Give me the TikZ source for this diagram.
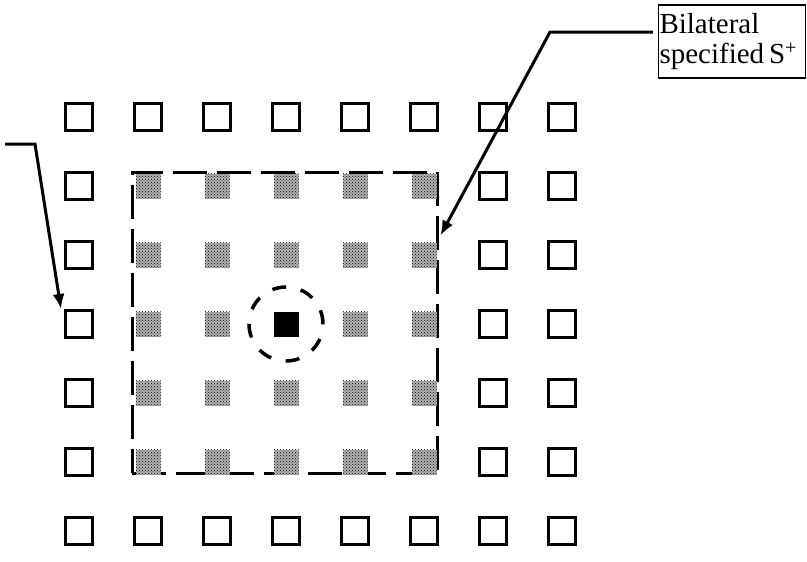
\documentclass[tikz,border=0pt]{standalone}
\usepackage{fontspec}
\setmainfont{Liberation Serif}
\usetikzlibrary{arrows.meta,patterns}
\tikzset{
    opensq/.style={draw, line width=3pt, minimum size=27pt, inner sep=0pt},
    dotsq/.style={preaction={fill=gray!60}, pattern=crosshatch dots, minimum size=25pt, inner sep=0pt},
    blacksq/.style={fill=black, minimum size=25pt, inner sep=0pt},
    frame/.style={draw, line width=3pt, dash pattern=on 34pt off 10pt, minimum width=305pt, minimum height=301pt, inner sep=0pt},
    ring/.style={draw, circle, line width=3.5pt, dash pattern=on 14pt off 15pt, minimum size=74pt, inner sep=0pt},
    labelbox/.style={draw, line width=1.2pt, minimum width=147pt, minimum height=73pt, text width=145pt, inner xsep=1pt, inner ysep=3pt, align=left, font=\fontsize{29}{30}\selectfont},
    pointer/.style={line width=3pt, -{Latex[length=15pt,width=12pt]}}
}
\begin{document}
\begin{tikzpicture}[x=1pt,y=-1pt]
    \useasboundingbox (0,0) rectangle (807,562);
    % Dashed frame round the inner block
    \node (frame) [frame] at (284.5,322.5) {};
    % Top and bottom rows
    \foreach \i in {0,...,7}
    {
        \node (t\i) [opensq] at (79+69*\i,117) {};
        \node (b\i) [opensq] at (79+69*\i,531) {};
    }
    % Side columns
    \foreach \j in {1,...,5}
    {
        \node (l\j) [opensq] at (79,117+69*\j) {};
        \node (r\j) [opensq] at (493,117+69*\j) {};
        \node (rr\j) [opensq] at (562,117+69*\j) {};
    }
    % Inner block, black one in the middle
    \foreach \i in {1,...,5}
        \foreach \j in {1,...,5}
        {
            \ifnum\numexpr10*\i+\j\relax=33
                \node (centre) [blacksq] at (79+69*\i,117+69*\j) {};
            \else
                \node (s\i\j) [dotsq] at (79+69*\i,117+69*\j) {};
            \fi
        }
    \node (ring) [ring] at (centre) {};
    % Label and arrows
    \node (label) [labelbox] at (732,41.5) {Bilateral\\specified\,S\textsuperscript{+}};
    \coordinate (lstart) at (5,144);
    \coordinate (lbend) at (35,144);
    \draw[pointer] (lstart) -- (lbend) -- ([xshift=-3pt]l3.north west);
    \coordinate (rbend) at (550,32);
    \draw[pointer] ([xshift=-5pt,yshift=9.5pt]label.west) -- (rbend) -- ([xshift=2pt,yshift=87pt]frame.east);
\end{tikzpicture}
\end{document}
